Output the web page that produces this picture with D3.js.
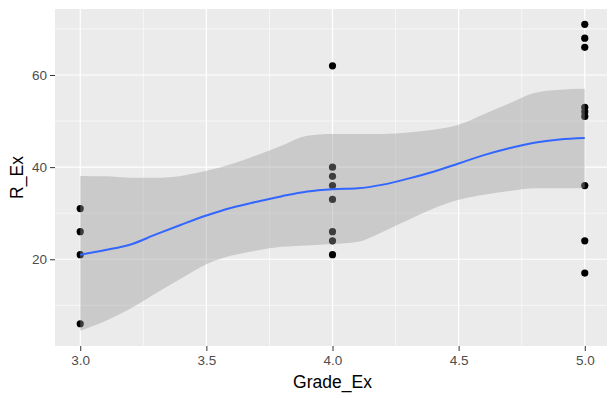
<!DOCTYPE html>
<html>
<head>
<meta charset="utf-8">
<script src="https://cdn.jsdelivr.net/npm/d3@7"></script>
<style>
body { margin: 0; background: #fff; }
text { font-family: "Liberation Sans", Arial, sans-serif; }
</style>
</head>
<body>
<script>
// raw points
var gradeEx = [3, 3, 3, 3, 4, 4, 4, 4, 4, 4, 4, 4, 5, 5, 5, 5, 5, 5, 5, 5, 5];
var rEx     = [31, 26, 21, 6, 62, 40, 38, 36, 33, 26, 24, 21, 71, 68, 66, 53, 52, 51, 36, 24, 17];

// loess fit
var smoothX     = [3.0, 3.1, 3.2, 3.3, 3.4, 3.5, 3.6, 3.7, 3.8, 3.9, 4.0, 4.1, 4.2, 4.3, 4.4, 4.5, 4.6, 4.7, 4.8, 4.9, 5.0];
var smoothFit   = [21.0, 22.0, 23.2, 25.4, 27.5, 29.5, 31.2, 32.5, 33.7, 34.7, 35.2, 35.4, 36.2, 37.5, 39.0, 40.8, 42.6, 44.1, 45.3, 46.0, 46.3];
var smoothUpper = [38.1, 38.0, 37.7, 37.7, 38.1, 39.2, 40.7, 42.6, 44.7, 46.8, 47.2, 47.2, 47.2, 47.5, 48.1, 49.2, 51.5, 53.8, 56.1, 56.8, 57.0];
var smoothLower = [4.5, 6.6, 9.3, 12.6, 15.8, 18.9, 20.8, 21.9, 22.7, 23.0, 23.3, 23.8, 26.0, 28.5, 31.0, 32.9, 34.0, 34.8, 35.4, 35.4, 35.4];

var xTicks = [3.0, 3.5, 4.0, 4.5, 5.0];
var xMinor = [3.25, 3.75, 4.25, 4.75];
var yTicks = [20, 40, 60];
var yMinor = [10, 30, 50, 70];

var width = 607, height = 398;
var margin = {left: 55, top: 9, right: -3, bottom: 52};

var svg = d3.select("body").append("svg")
	.attr("width", width).attr("height", height);

// ggplot style 5% expansion
var xr = d3.extent(gradeEx), xpad = (xr[1] - xr[0]) * 0.05;
var yLo = d3.min(rEx.concat(smoothLower)), yHi = d3.max(rEx.concat(smoothUpper));
var ypad = (yHi - yLo) * 0.05;

var x = d3.scaleLinear().domain([xr[0] - xpad, xr[1] + xpad]).range([margin.left, width - margin.right]);
var y = d3.scaleLinear().domain([yLo - ypad, yHi + ypad]).range([height - margin.bottom, margin.top]);

var defs = svg.append("defs");
defs.append("clipPath").attr("id", "clip").append("rect")
	.attr("x", margin.left).attr("y", margin.top)
	.attr("width", width - margin.right - margin.left)
	.attr("height", height - margin.bottom - margin.top);

var panel = svg.append("g").attr("clip-path", "url(#clip)");

panel.append("rect")
	.attr("x", margin.left).attr("y", margin.top)
	.attr("width", width - margin.right - margin.left)
	.attr("height", height - margin.bottom - margin.top)
	.attr("fill", "#ebebeb");

// grid
panel.selectAll(".ymin").data(yMinor).enter().append("line")
	.attr("x1", margin.left).attr("x2", width - margin.right)
	.attr("y1", d => y(d)).attr("y2", d => y(d))
	.attr("stroke", "#fff").attr("stroke-width", 0.6);
panel.selectAll(".xmin").data(xMinor).enter().append("line")
	.attr("y1", margin.top).attr("y2", height - margin.bottom)
	.attr("x1", d => x(d)).attr("x2", d => x(d))
	.attr("stroke", "#fff").attr("stroke-width", 0.6);
panel.selectAll(".ymaj").data(yTicks).enter().append("line")
	.attr("x1", margin.left).attr("x2", width - margin.right)
	.attr("y1", d => y(d)).attr("y2", d => y(d))
	.attr("stroke", "#fff").attr("stroke-width", 1.2);
panel.selectAll(".xmaj").data(xTicks).enter().append("line")
	.attr("y1", margin.top).attr("y2", height - margin.bottom)
	.attr("x1", d => x(d)).attr("x2", d => x(d))
	.attr("stroke", "#fff").attr("stroke-width", 1.2);

// points
panel.selectAll("circle").data(gradeEx).enter().append("circle")
	.attr("cx", d => x(d)).attr("cy", (d, i) => y(rEx[i]))
	.attr("r", 3.6).attr("fill", "#000");

// ribbon over the points, like geom_smooth
var band = d3.area()
	.x((d, i) => x(smoothX[i]))
	.y0((d, i) => y(smoothLower[i]))
	.y1((d, i) => y(smoothUpper[i]))
	.curve(d3.curveMonotoneX);
panel.append("path").datum(smoothX).attr("d", band)
	.attr("fill", "#999999").attr("fill-opacity", 0.4);

var fitLine = d3.line()
	.x((d, i) => x(smoothX[i]))
	.y((d, i) => y(smoothFit[i]))
	.curve(d3.curveMonotoneX);
panel.append("path").datum(smoothX).attr("d", fitLine)
	.attr("fill", "none").attr("stroke", "#3366ff").attr("stroke-width", 2);

// axes
var xAxis = svg.append("g").attr("transform", "translate(0," + (height - margin.bottom) + ")")
	.call(d3.axisBottom(x).tickValues(xTicks).tickFormat(d3.format(".1f")).tickSize(5).tickPadding(4));
var yAxis = svg.append("g").attr("transform", "translate(" + margin.left + ",0)")
	.call(d3.axisLeft(y).tickValues(yTicks).tickSize(5).tickPadding(3));

[xAxis, yAxis].forEach(function (a) {
	a.select(".domain").remove();
	a.selectAll(".tick line").attr("stroke", "#333").attr("stroke-width", 1);
	a.selectAll(".tick text").attr("fill", "#4d4d4d").style("font-size", "13.5px")
		.style("font-family", "'Liberation Sans', Arial, sans-serif");
});

svg.append("text").attr("x", (margin.left + width - margin.right) / 2).attr("y", 388)
	.attr("text-anchor", "middle").style("font-size", "17.5px").attr("fill", "#000")
	.text("Grade_Ex");

svg.append("text").attr("transform", "translate(23," + ((margin.top + height - margin.bottom) / 2) + ") rotate(-90)")
	.attr("text-anchor", "middle").style("font-size", "17.5px").attr("fill", "#000")
	.text("R_Ex");
</script>
</body>
</html>
